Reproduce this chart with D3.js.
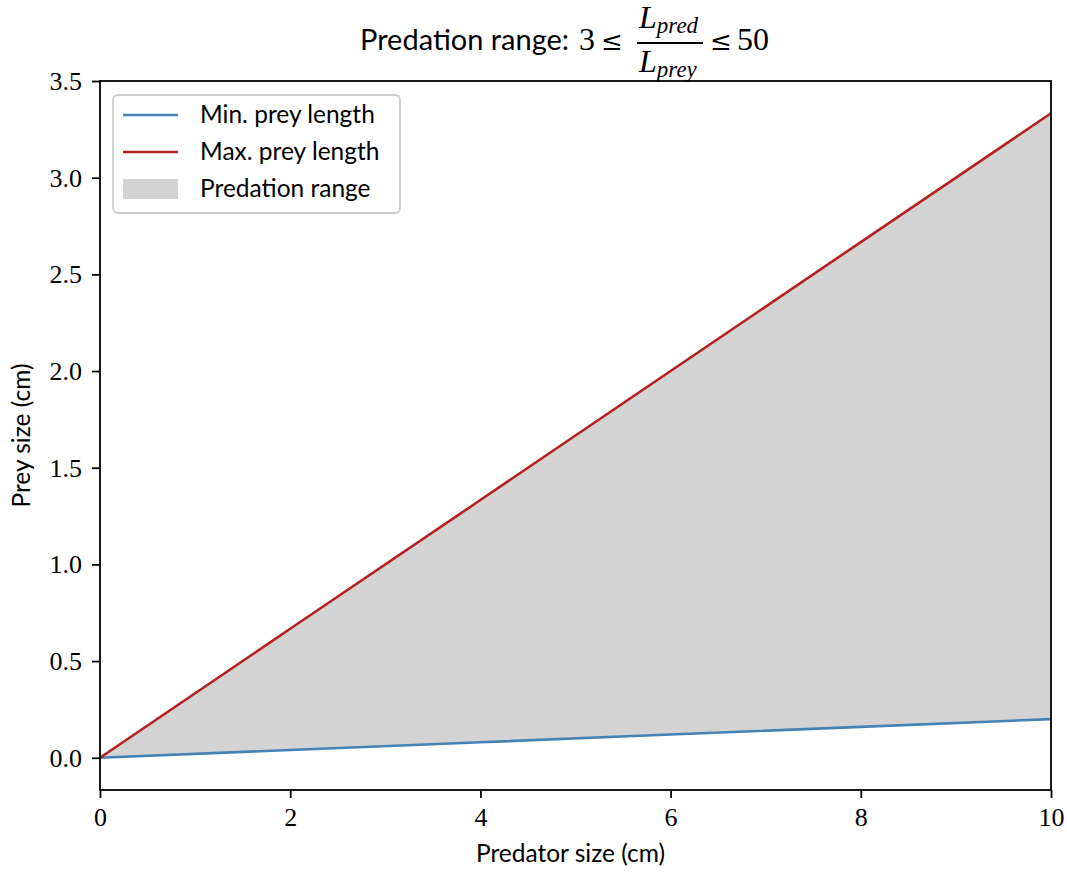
<!DOCTYPE html>
<html>
<head>
<meta charset="utf-8">
<script src="https://cdn.jsdelivr.net/npm/d3@7"></script>
<style>
  body { margin: 0; background: #fff; }
  .sans { font-family: Lato, "DejaVu Sans", sans-serif; }
  .serif { font-family: "Liberation Serif", serif; }
  .rel { font-family: "DejaVu Serif", serif; }
</style>
</head>
<body>
<div id="chart"></div>
<script>
// predator length and the prey lengths at the two ratio limits (3 and 50)
const predatorSize = [0, 2, 4, 6, 8, 10];
const minPrey = [0, 0.04, 0.08, 0.12, 0.16, 0.2];
const maxPrey = [0, 0.667, 1.333, 2.0, 2.667, 3.333];
const xTicks = [0, 2, 4, 6, 8, 10];
const yTicks = [0, 0.5, 1.0, 1.5, 2.0, 2.5, 3.0, 3.5];
const legendLabels = ["Min. prey length", "Max. prey length", "Predation range"];

const width = 1067, height = 874;
const margin = { top: 81, right: 16, bottom: 84, left: 100 };

const svg = d3.select("#chart")
  .append("svg")
  .attr("width", width)
  .attr("height", height);

const x = d3.scaleLinear().domain([0, 10]).range([margin.left, width - margin.right]);
const y = d3.scaleLinear().domain([-0.1667, 3.5]).range([height - margin.bottom, margin.top]);

const rows = predatorSize.map((p, i) => ({ p, lo: minPrey[i], hi: maxPrey[i] }));

// shaded band between the limits
svg.append("path")
  .datum(rows)
  .attr("fill", "#d3d3d3")
  .attr("d", d3.area().x(d => x(d.p)).y0(d => y(d.lo)).y1(d => y(d.hi)));

const line = key => d3.line().x(d => x(d.p)).y(d => y(d[key]));

svg.append("path").datum(rows)
  .attr("fill", "none").attr("stroke", "#4682b4").attr("stroke-width", 2.6)
  .attr("d", line("lo"));
svg.append("path").datum(rows)
  .attr("fill", "none").attr("stroke", "#b22222").attr("stroke-width", 2.6)
  .attr("d", line("hi"));

// axes
const xAxis = svg.append("g")
  .attr("transform", `translate(0,${height - margin.bottom})`)
  .call(d3.axisBottom(x).tickValues(xTicks).tickSize(8).tickPadding(10).tickFormat(d3.format("d")));
const yAxis = svg.append("g")
  .attr("transform", `translate(${margin.left},0)`)
  .call(d3.axisLeft(y).tickValues(yTicks).tickSize(8).tickPadding(10).tickFormat(d3.format(".1f")));

[xAxis, yAxis].forEach(g => {
  g.select(".domain").remove();
  g.selectAll(".tick line").attr("stroke", "#000").attr("stroke-width", 1.8);
  g.selectAll(".tick text")
    .attr("class", "serif")
    .attr("fill", "#000")
    .style("font-size", "26px");
});

// frame
svg.append("rect")
  .attr("x", margin.left).attr("y", margin.top)
  .attr("width", width - margin.left - margin.right)
  .attr("height", height - margin.top - margin.bottom)
  .attr("fill", "none").attr("stroke", "#000").attr("stroke-width", 1.8);

// axis labels
svg.append("text")
  .attr("class", "sans")
  .attr("x", (margin.left + width - margin.right) / 2 - 5)
  .attr("y", 862)
  .attr("text-anchor", "middle")
  .style("font-size", "24.5px")
  .text("Predator size (cm)");

svg.append("text")
  .attr("class", "sans")
  .attr("transform", `translate(30,${(margin.top + height - margin.bottom) / 2}) rotate(-90)`)
  .attr("text-anchor", "middle")
  .style("font-size", "24.5px")
  .text("Prey size (cm)");

// legend
const legend = svg.append("g").attr("transform", "translate(113,95)");
legend.append("rect")
  .attr("width", 287).attr("height", 118)
  .attr("rx", 5)
  .attr("fill", "#fff").attr("fill-opacity", 0.8)
  .attr("stroke", "#cccccc").attr("stroke-width", 1.8);

const legendColors = ["#4682b4", "#b22222", "#d3d3d3"];
legendLabels.forEach((label, i) => {
  const cy = 20 + i * 37;
  if (i < 2) {
    legend.append("line")
      .attr("x1", 10).attr("x2", 65).attr("y1", cy).attr("y2", cy)
      .attr("stroke", legendColors[i]).attr("stroke-width", 2.6);
  } else {
    legend.append("rect")
      .attr("x", 10).attr("y", cy - 10).attr("width", 55).attr("height", 20)
      .attr("fill", legendColors[i]);
  }
  legend.append("text")
    .attr("class", "sans")
    .attr("x", 87).attr("y", cy + 8)
    .style("font-size", "24.5px")
    .text(label);
});

// title with the ratio written as a fraction
const title = svg.append("g");
const put = (str, cls, size, xx, yy, italic) =>
  title.append("text")
    .attr("class", cls)
    .attr("x", xx).attr("y", yy)
    .style("font-size", size + "px")
    .style("font-style", italic ? "italic" : "normal")
    .text(str);

put("Predation range:", "sans", 29, 360, 50);
put("3", "serif", 32, 579, 50);
put("\u2264", "rel", 26, 601, 50);

const frac = (main, sub, xx, yy) => {
  const t = title.append("text").attr("class", "serif")
    .attr("x", xx).attr("y", yy)
    .style("font-size", "32px").style("font-style", "italic");
  t.append("tspan").text(main);
  t.append("tspan").attr("dy", 5).style("font-size", "23px").text(sub);
};
frac("L", "pred", 639, 28);
frac("L", "prey", 639, 72);
title.append("line")
  .attr("x1", 637).attr("x2", 703)
  .attr("y1", 43).attr("y2", 43)
  .attr("stroke", "#000").attr("stroke-width", 1.8);

put("\u2264", "rel", 26, 710, 50);
put("50", "serif", 32, 737, 50);
</script>
</body>
</html>
